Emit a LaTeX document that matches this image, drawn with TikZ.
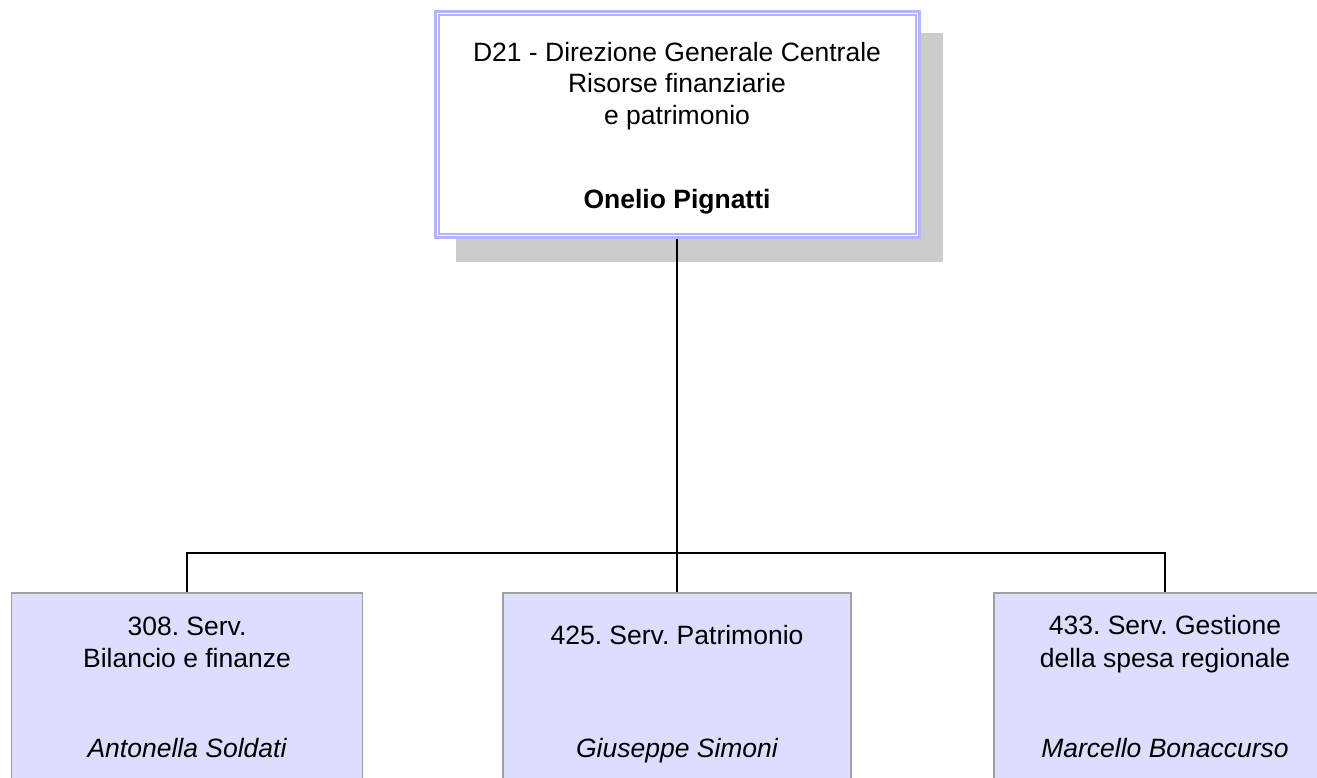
\documentclass[tikz,border=0pt]{standalone}
\usepackage{fontspec}
\setmainfont{Liberation Sans}
\frenchspacing
\definecolor{frameblue}{RGB}{180,180,255}
\definecolor{shadowgray}{RGB}{204,204,204}
\definecolor{boxfill}{RGB}{221,221,255}
\definecolor{boxline}{RGB}{160,160,160}
\tikzset{
  txt/.style={anchor=base, inner sep=0pt, font=\fontsize{26.5}{31.5}\selectfont},
  topbox/.style={draw=frameblue, line width=3pt, fill=white, minimum width=484pt, minimum height=226pt, inner sep=0pt},
  subbox/.style={draw=boxline, line width=1.6pt, fill=boxfill, minimum height=207pt, inner sep=0pt},
  link/.style={draw=black, line width=1.5pt},
}
\begin{document}
\begin{tikzpicture}[x=1pt,y=1pt]
\useasboundingbox (0,0) rectangle (1317,777);
\clip (0,0) rectangle (1317,777);
\fill[white] (0,0) rectangle (1317,777);
% shadow
\fill[shadowgray] (456,744) rectangle (943,515);
% top box
\node[topbox] (top) at (677,652.5) {};
\draw[frameblue, line width=2pt] ([shift={(5,-5)}]top.north west) rectangle ([shift={(-5,5)}]top.south east);
\node[txt] (t1) at (677,715) {D21 - Direzione Generale Centrale};
\node[txt] (t2) at (677,684) {Risorse finanziarie};
\node[txt] (t3) at (677,652) {e patrimonio};
\node[txt, font=\fontsize{26.5}{31.5}\selectfont\bfseries] (t4) at (677,568) {Onelio Pignatti};
% sub boxes
\node[subbox, minimum width=351pt] (b1) at (187,80.5) {};
\node[subbox, minimum width=348pt] (b2) at (677,80.5) {};
\node[subbox, minimum width=342pt] (b3) at (1165,80.5) {};
% connectors
\coordinate (hl) at (187,224);
\coordinate (hr) at (1165,224);
\draw[link] (top.south) -- (b2.north);
\draw[link] (b1.north) -- (hl) -- (hr) -- (b3.north);
% sub box texts
\node[txt] (s1a) at (187,142) {308. Serv.};
\node[txt] (s1b) at (187,110) {Bilancio e finanze};
\node[txt, font=\fontsize{26.5}{31.5}\selectfont\itshape] (s1c) at (187,20) {Antonella Soldati};
\node[txt] (s2a) at (677,133) {425. Serv. Patrimonio};
\node[txt, font=\fontsize{26.5}{31.5}\selectfont\itshape] (s2c) at (677,20) {Giuseppe Simoni};
\node[txt] (s3a) at (1165,143) {433. Serv. Gestione};
\node[txt] (s3b) at (1165,110) {della spesa regionale};
\node[txt, font=\fontsize{26.5}{31.5}\selectfont\itshape] (s3c) at (1165,20) {Marcello Bonaccurso};
\end{tikzpicture}
\end{document}
